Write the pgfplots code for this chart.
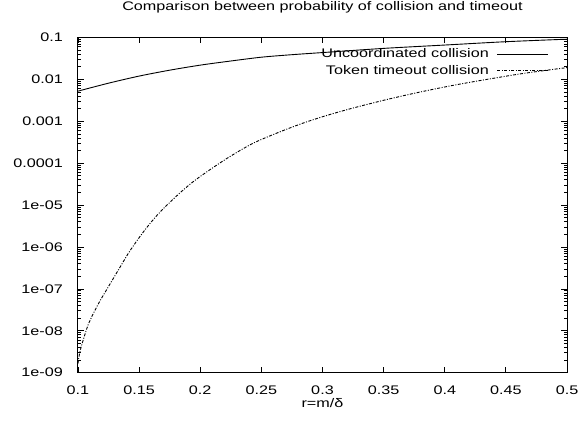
\documentclass[border=0pt]{standalone}
\usepackage{fontspec}
\setmainfont{Liberation Sans}[FakeStretch=1.3]
\usepackage{pgfplots}
\pgfplotsset{compat=1.18}
\newcommand\gpfont{\fontsize{12.5}{14}\selectfont}
\begin{document}
\begin{tikzpicture}
\begin{axis}[
  width=489bp, height=335.2bp, scale only axis,
  xmin=0.1, xmax=0.5,
  ymode=log, ymin=1e-9, ymax=0.1,
  xtick={0.1,0.15,0.2,0.25,0.3,0.35,0.4,0.45,0.5},
  xticklabels={0.1,0.15,0.2,0.25,0.3,0.35,0.4,0.45,0.5},
  ytick={1e-9,1e-8,1e-7,1e-6,1e-5,1e-4,1e-3,1e-2,1e-1},
  yticklabels={1e-09,1e-08,1e-07,1e-06,1e-05,0.0001,0.001,0.01,0.1},
  minor ytick={2e-9,3e-9,4e-9,5e-9,6e-9,7e-9,8e-9,9e-9,
               2e-8,3e-8,4e-8,5e-8,6e-8,7e-8,8e-8,9e-8,
               2e-7,3e-7,4e-7,5e-7,6e-7,7e-7,8e-7,9e-7,
               2e-6,3e-6,4e-6,5e-6,6e-6,7e-6,8e-6,9e-6,
               2e-5,3e-5,4e-5,5e-5,6e-5,7e-5,8e-5,9e-5,
               2e-4,3e-4,4e-4,5e-4,6e-4,7e-4,8e-4,9e-4,
               2e-3,3e-3,4e-3,5e-3,6e-3,7e-3,8e-3,9e-3,
               2e-2,3e-2,4e-2,5e-2,6e-2,7e-2,8e-2,9e-2},
  minor x tick num=0,
  tick align=inside,
  major tick length=6bp, minor tick length=3bp,
  axis line style={line width=1bp},
  every tick/.style={black, line width=0.8bp},
  xticklabel style={font=\gpfont, anchor=base, yshift=-22bp, inner sep=0pt},
  yticklabel style={font=\gpfont, anchor=east, xshift=-15bp, inner sep=0pt},
  title={Comparison between probability of collision and timeout},
  title style={font=\gpfont, at={(0.5,1)}, anchor=base, yshift=21bp, inner sep=0pt},
  xlabel={r=m/δ},
  xlabel style={font=\gpfont, at={(0.5,0)}, anchor=base, yshift=-35bp, inner sep=0pt},
  legend style={draw=none, fill=none, at={(0.963,0.973)}, anchor=north east,
    inner sep=0pt, font=\gpfont, row sep=2bp, column sep=6bp},
  legend cell align=right,
  legend plot pos=right,
  legend image code/.code={\draw[#1] (0bp,0bp) -- (51bp,0bp);},
]
\coordinate (sw) at (rel axis cs:0,0);
\coordinate (ne) at (rel axis cs:1,1);
\addplot[black, line width=0.9bp, smooth] coordinates {
  (0.100,5.25e-3) (0.125,8.13e-3) (0.150,1.20e-2) (0.175,1.66e-2)
  (0.200,2.19e-2) (0.225,2.75e-2) (0.250,3.39e-2) (0.275,3.89e-2)
  (0.300,4.37e-2) (0.350,5.50e-2) (0.400,6.61e-2) (0.450,7.94e-2)
  (0.500,9.12e-2)
};
\addlegendentry{Uncoordinated collision}
\addplot[black, line width=0.9bp, smooth, dash pattern=on 3bp off 1.5bp on 1bp off 1.5bp] coordinates {
  (0.1000,1.66e-9) (0.1020,3.55e-9) (0.1084,1.41e-8) (0.1166,4.37e-8)
  (0.1248,1.12e-7) (0.1330,2.82e-7) (0.1412,7.08e-7) (0.1494,1.58e-6)
  (0.1575,3.24e-6) (0.1657,6.17e-6) (0.1767,1.29e-5) (0.1876,2.51e-5)
  (0.1970,4.17e-5) (0.2107,7.94e-5) (0.2244,1.45e-4) (0.2435,3.02e-4)
  (0.2653,5.62e-4) (0.2844,9.12e-4) (0.3035,1.38e-3) (0.3254,2.09e-3)
  (0.3526,3.31e-3) (0.3800,5.01e-3) (0.4071,7.24e-3) (0.4344,1.00e-2)
  (0.4615,1.35e-2) (0.4890,1.74e-2) (0.5000,1.91e-2)
};
\addlegendentry{Token timeout collision}
\end{axis}
\path (sw) ++(-78bp,-57.3bp) coordinate (bba);
\path (ne) ++(16bp,37.5bp) coordinate (bbb);
\path (bba) rectangle (bbb);
\end{tikzpicture}
\end{document}
